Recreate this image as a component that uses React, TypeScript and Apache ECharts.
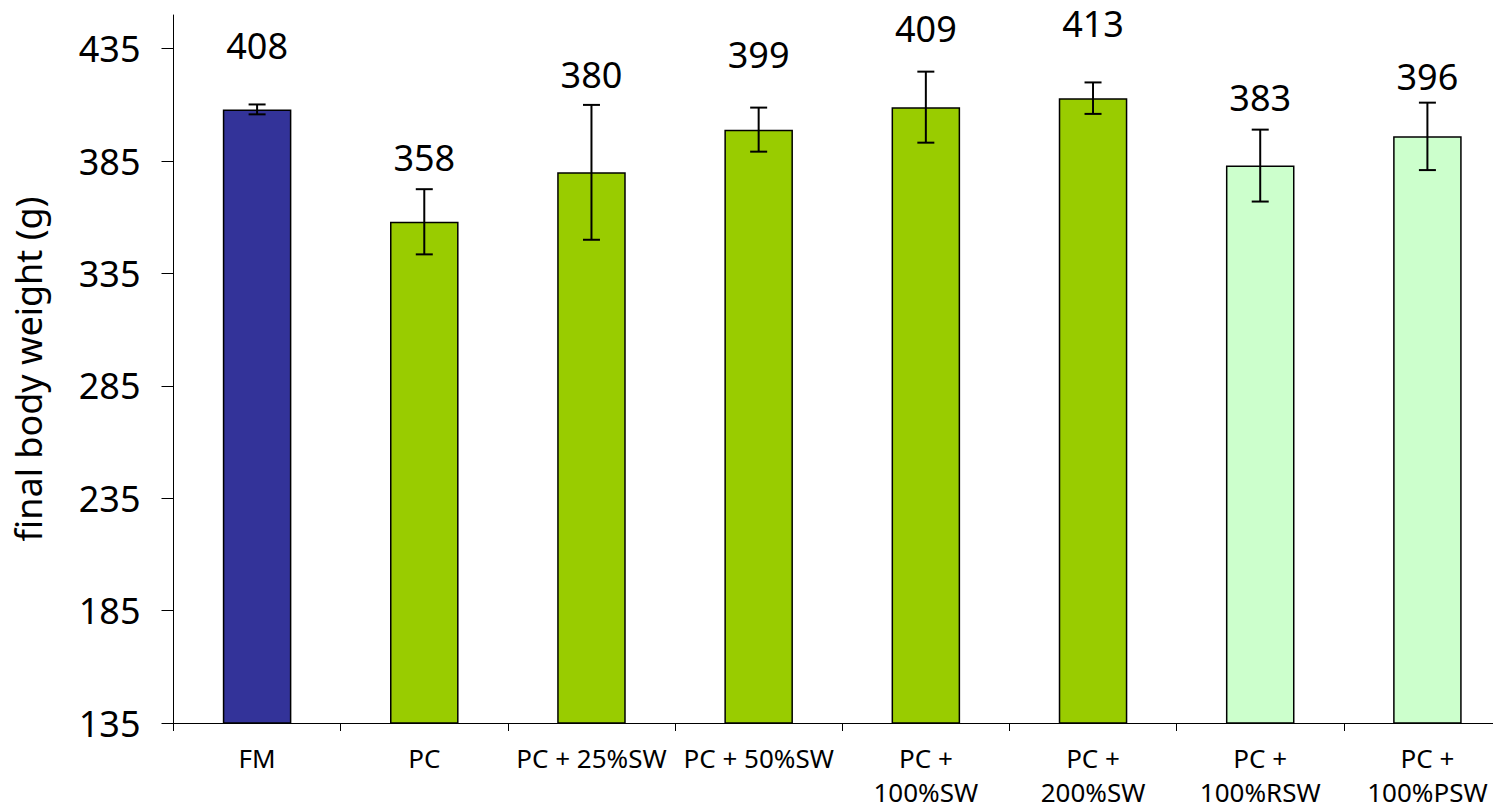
import React, { useEffect, useRef } from "react";
import * as echarts from "echarts";

const categories = ["FM", "PC", "PC + 25%SW", "PC + 50%SW", "PC + 100%SW", "PC + 200%SW", "PC + 100%RSW", "PC + 100%PSW"];
const values = [408, 358, 380, 399, 409, 413, 383, 396];
const errors = [2.2, 14.5, 30, 9.8, 15.8, 7, 16, 15];
const labelAt = [436.6, 386.8, 423.5, 432.3, 444, 446, 413.4, 422.5];
const barColors = ["#333399", "#99CC00", "#99CC00", "#99CC00", "#99CC00", "#99CC00", "#CCFFCC", "#CCFFCC"];
const yTicks = [135, 185, 235, 285, 335, 385, 435];

const FONT = '"Noto Sans", "DejaVu Sans", sans-serif';

export default function App() {
  const ref = useRef<HTMLDivElement>(null);
  useEffect(() => {
    if (!ref.current) return;
    const chart = echarts.init(ref.current, null, { renderer: "svg" });
    chart.setOption({
      animation: false,
      backgroundColor: "#ffffff",
      grid: { left: 173.5, right: -18, top: 15, bottom: 88, containLabel: false, outerBoundsMode: "none" },
      xAxis: {
        type: "category",
        data: categories,
        boundaryGap: true,
        axisLine: { lineStyle: { color: "#000", width: 1 } },
        axisTick: { show: true, length: 8, lineStyle: { color: "#000", width: 1 } },
        axisLabel: {
          color: "#000",
          fontFamily: FONT,
          fontSize: 26,
          lineHeight: 34,
          margin: 18,
          interval: 0,
          formatter: (v: string) => (v.length > 10 ? v.replace(" + ", " +\n") : v),
        },
      },
      yAxis: {
        type: "value",
        min: 135,
        max: 450,
        interval: 50,
        name: "final body weight (g)",
        nameLocation: "middle",
        nameRotate: 90,
        nameGap: 127,
        nameTextStyle: { color: "#000", fontFamily: FONT, fontSize: 36 },
        axisLine: { show: true, lineStyle: { color: "#000", width: 1 } },
        axisTick: { show: true, length: 12, customValues: yTicks, lineStyle: { color: "#000", width: 1 } },
        axisLabel: { color: "#000", fontFamily: FONT, fontSize: 36, margin: 33, customValues: yTicks },
        splitLine: { show: false },
      },
      series: [
        {
          type: "bar",
          barWidth: "41%",
          data: values.map((v, i) => ({
            value: v,
            itemStyle: { color: barColors[i], borderColor: "#000", borderWidth: 1.5 },
          })),
        },
        {
          type: "custom",
          z: 5,
          clip: false,
          data: categories.map((c, i) => [i, values[i], errors[i], labelAt[i]]),
          renderItem: (params: any, api: any) => {
            const x = api.value(0);
            const v = api.value(1);
            const e = api.value(2);
            const la = api.value(3);
            const top = api.coord([x, v + e]);
            const bot = api.coord([x, v - e]);
            const lab = api.coord([x, la]);
            const cap = 8.5;
            const ls = { stroke: "#000", lineWidth: 2 };
            return {
              type: "group",
              children: [
                { type: "line", shape: { x1: top[0], y1: top[1], x2: bot[0], y2: bot[1] }, style: ls },
                { type: "line", shape: { x1: top[0] - cap, y1: top[1], x2: top[0] + cap, y2: top[1] }, style: ls },
                { type: "line", shape: { x1: bot[0] - cap, y1: bot[1], x2: bot[0] + cap, y2: bot[1] }, style: ls },
                {
                  type: "text",
                  x: lab[0],
                  y: lab[1],
                  style: {
                    text: String(values[params.dataIndex]),
                    fontFamily: FONT,
                    fontSize: 36,
                    fill: "#000",
                    align: "center",
                    verticalAlign: "middle",
                  },
                },
              ],
            };
          },
        },
      ],
    });
    return () => chart.dispose();
  }, []);
  return <div ref={ref} style={{ position: "fixed", left: 0, top: 0, width: 1493, height: 811 }} />;
}
